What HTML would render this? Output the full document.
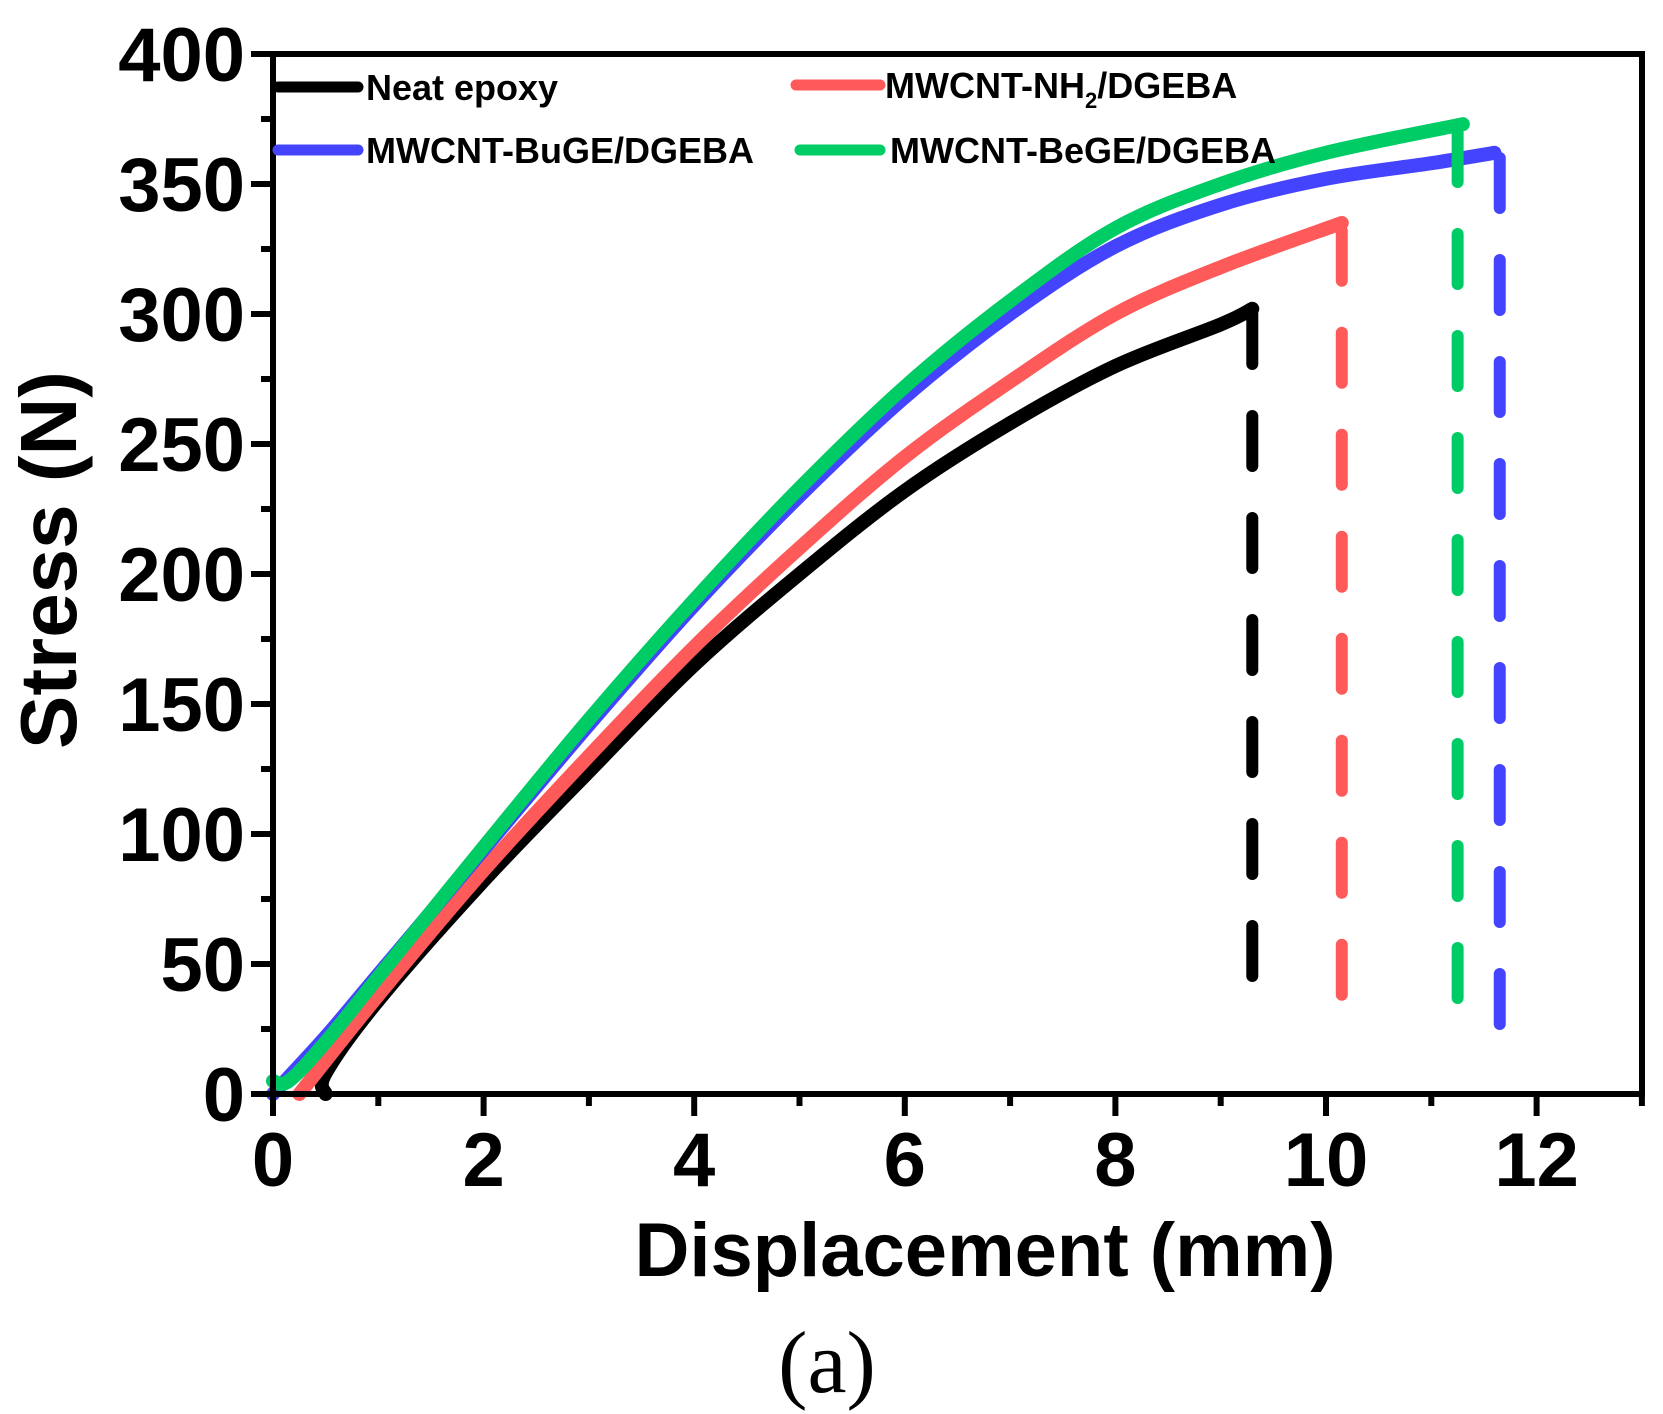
<!DOCTYPE html>
<html><head><meta charset="utf-8"><style>
html,body{margin:0;padding:0;background:#fff;}
svg{display:block;font-family:"Liberation Sans",Arial,sans-serif;}
</style></head><body>
<svg id="s" width="1663" height="1414" viewBox="0 0 1663 1414" xmlns="http://www.w3.org/2000/svg">
<rect width="1663" height="1414" fill="#fff"/>
<g id="curves" fill="none" stroke-linecap="round" stroke-linejoin="round"></g>
<g id="axes" stroke="#000" stroke-width="6" fill="none">
<rect x="273" y="54" width="1369" height="1040"/>
</g>
<g id="ticks" stroke="#000" stroke-width="6"></g>
<g id="labels" font-weight="bold" font-size="76" fill="#000"></g>
<text x="985" y="1276" font-size="76" font-weight="bold" text-anchor="middle">Displacement (mm)</text>
<text transform="translate(76,560) rotate(-90)" font-size="80" font-weight="bold" text-anchor="middle">Stress (N)</text>
<text x="827" y="1392" font-size="88" font-family="Liberation Serif,serif" text-anchor="middle">(a)</text>
<g stroke-width="11" stroke-linecap="round">
<line x1="278" y1="87" x2="358" y2="87" stroke="#000"/>
<line x1="278" y1="150" x2="358" y2="150" stroke="#4444ff"/>
<line x1="796" y1="85" x2="880" y2="85" stroke="#ff5a5a"/>
<line x1="800" y1="150" x2="880" y2="150" stroke="#00cc66"/>
</g>
<g font-size="36" font-weight="bold">
<text x="366" y="100">Neat epoxy</text>
<text x="366" y="163">MWCNT-BuGE/DGEBA</text>
<text x="885" y="98">MWCNT-NH<tspan font-size="22" dy="10">2</tspan><tspan dy="-10">/DGEBA</tspan></text>
<text x="890" y="163">MWCNT-BeGE/DGEBA</text>
</g>
</svg>
<script>
const X=d=>273+105.3*d, Y=s=>1094-2.6*s;
const ns="http://www.w3.org/2000/svg";
function el(p,t,a){const e=document.createElementNS(ns,t);for(const k in a)e.setAttribute(k,a[k]);p.appendChild(e);return e;}
const tk=document.getElementById('ticks'),lb=document.getElementById('labels');
for(let i=0;i<=13;i++){const x=X(i),L=i%2?12:22;el(tk,'line',{x1:x,y1:1094,x2:x,y2:1094+L});
 if(i%2==0){const t=el(lb,'text',{x:x,y:1186,'text-anchor':'middle'});t.textContent=i;}}
for(let s=0;s<=400;s+=25){const y=Y(s),L=s%50?12:22;el(tk,'line',{x1:273-L,y1:y,x2:273,y2:y});
 if(s%50==0){const t=el(lb,'text',{x:245,y:y+27,'text-anchor':'end'});t.textContent=s;}}
function path(pts){let d='M'+X(pts[0][0])+','+Y(pts[0][1]);
 for(let i=0;i<pts.length-1;i++){const p0=pts[Math.max(0,i-1)],p1=pts[i],p2=pts[i+1],p3=pts[Math.min(pts.length-1,i+2)];
  const c1=[p1[0]+(p2[0]-p0[0])/6,p1[1]+(p2[1]-p0[1])/6],c2=[p2[0]-(p3[0]-p1[0])/6,p2[1]-(p3[1]-p1[1])/6];
  d+=' C'+X(c1[0])+','+Y(c1[1])+' '+X(c2[0])+','+Y(c2[1])+' '+X(p2[0])+','+Y(p2[1]);}
 return d;}
const g=document.getElementById('curves');
const S=[
 ['#000',[[0.5,0],[0.5,8],[1,36],[2,82],[3,124],[4,165],[5,200],[6,232],[7,258],[8,280],[9,296],[9.3,302]],9.3,300,30],
 ['#ff5a5a',[[0.25,0],[1,38],[2,86],[3,130],[4,172],[5,210],[6,245],[7,274],[8,300],[9,318],[10.15,335]],10.15,332,22],
 ['#4444ff',[[0,0],[0.5,22],[1,46],[2,94],[3,142],[4,188],[5,230],[6,268],[7,300],[8,326],[9,342],[10,352],[11,358],[11.6,362]],11.65,360,8],
 ['#00cc66',[[0,5],[0.15,5],[0.5,20],[1,45],[2,95],[3,144],[4,190],[5,233],[6,272],[7,305],[8,333],[9,350],[10,362],[11.3,373]],11.25,370,20]
];
for(const [c,p,xd,top,bot] of S){
 el(g,'path',{d:path(p),stroke:c,'stroke-width':14});
 el(g,'line',{x1:X(xd),y1:Y(top),x2:X(xd),y2:Y(bot),stroke:c,'stroke-width':12,'stroke-dasharray':'50 52','stroke-linecap':'round'});
}
</script>
</body></html>
